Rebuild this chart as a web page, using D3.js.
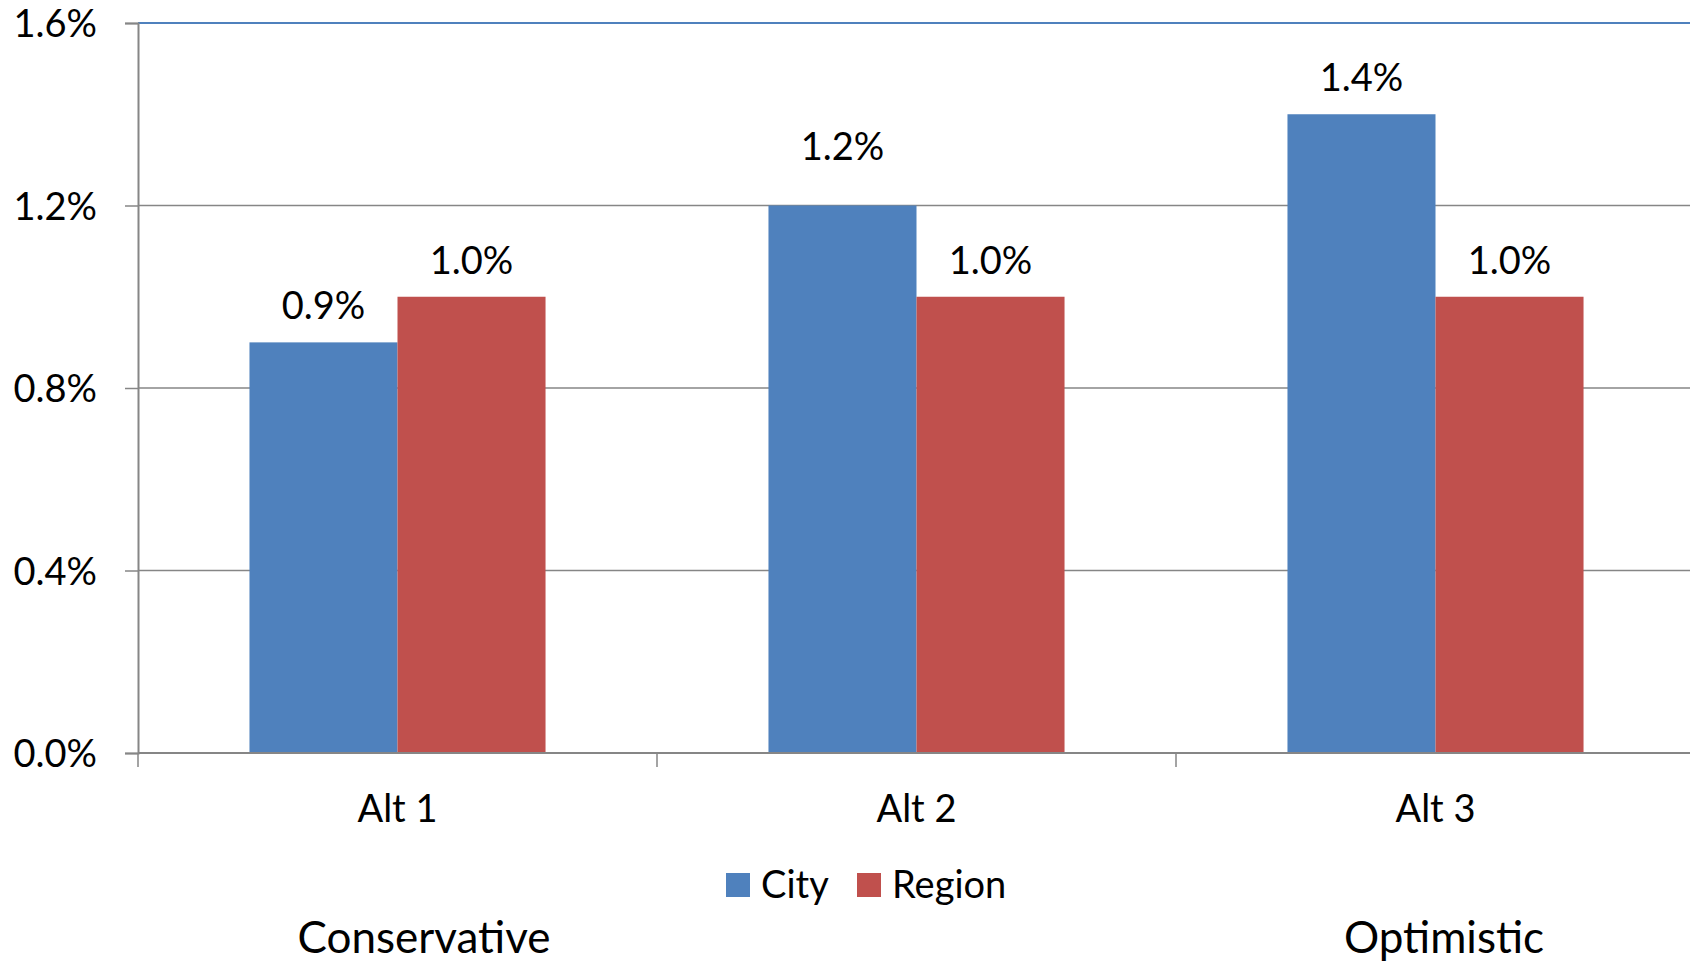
<!DOCTYPE html>
<html><head><meta charset="utf-8">
<script src="https://cdn.jsdelivr.net/npm/d3@7"></script>
<style>body{margin:0;background:#fff}svg text{font-family:Lato,"Open Sans",sans-serif;fill:#000}</style>
</head><body><svg id="c" width="1690" height="961"></svg>
<script>
const categories = ["Alt 1", "Alt 2", "Alt 3"];
const seriesNames = ["City", "Region"];
const cityValues = [0.009, 0.012, 0.014];
const regionValues = [0.010, 0.010, 0.010];
const yTicks = [0, 0.004, 0.008, 0.012, 0.016];
const scenarioLabels = ["Conservative", "Optimistic"];
const colors = ["#4f81bd", "#c0504d"];

(function () {
const svg = d3.select("#c");
const mLeft = 138, mRight = 1695, mTop = 23, mBottom = 753;
const fs = 38;
const x = d3.scaleBand().domain(categories).range([mLeft, mRight]).paddingInner(0).paddingOuter(0);
const x1 = d3.scaleBand().domain(seriesNames).range([0, x.bandwidth()]).paddingInner(0).paddingOuter(0.753);
const y = d3.scaleLinear().domain([0, 0.016]).range([mBottom, mTop]);
const fmt = d3.format(".1%");

svg.append("g").selectAll("line").data(yTicks.slice(1, -1)).join("line")
  .attr("x1", mLeft).attr("x2", 1690).attr("y1", d => y(d)).attr("y2", d => y(d))
  .attr("stroke", "#868686").attr("stroke-width", 1.3);
svg.append("line").attr("x1", mLeft).attr("x2", 1690).attr("y1", y(0.016)).attr("y2", y(0.016))
  .attr("stroke", "#4f81bd").attr("stroke-width", 2);

const data = categories.map((c, i) => ({c, vals: [cityValues[i], regionValues[i]]}));
const g = svg.append("g").selectAll("g").data(data).join("g")
  .attr("transform", d => `translate(${x(d.c)},0)`);
g.selectAll("rect").data(d => d.vals.map((v, j) => ({v, s: seriesNames[j], j}))).join("rect")
  .attr("x", d => x1(d.s)).attr("width", x1.bandwidth())
  .attr("y", d => y(d.v)).attr("height", d => y(0) - y(d.v))
  .attr("fill", d => colors[d.j]);
// labels sitting on a gridline value are lifted clear of it
const onGrid = v => yTicks.some(t => Math.abs(t - v) < 1e-9);
g.selectAll("text").data(d => d.vals.map((v, j) => ({v, s: seriesNames[j]}))).join("text")
  .attr("x", d => x1(d.s) + x1.bandwidth() / 2).attr("y", d => y(d.v) - (onGrid(d.v) ? 46 : 23))
  .attr("text-anchor", "middle").attr("font-size", fs).text(d => fmt(d.v));

const yAxis = svg.append("g").attr("transform", `translate(${mLeft},0)`)
  .call(d3.axisLeft(y).tickValues(yTicks).tickFormat(fmt).tickSize(13).tickPadding(28));
yAxis.select(".domain").attr("stroke", "#868686").attr("stroke-width", 2);
yAxis.selectAll(".tick line").attr("stroke", "#868686").attr("stroke-width", 1.5);
yAxis.selectAll(".tick text").attr("font-size", fs).attr("dy", "0.36em");

const xAxis = svg.append("g").attr("transform", `translate(0,${mBottom})`)
  .call(d3.axisBottom(x).tickSize(0).tickPadding(55));
xAxis.select(".domain").attr("stroke", "#868686").attr("stroke-width", 2).attr("d", `M${mLeft},0H1690`);
xAxis.selectAll(".tick text").attr("font-size", fs).attr("dy", "0.36em");
svg.append("g").selectAll("line").data(categories).join("line")
  .attr("x1", d => x(d)).attr("x2", d => x(d)).attr("y1", mBottom).attr("y2", mBottom + 14)
  .attr("stroke", "#868686").attr("stroke-width", 1.5);

const legX = [726, 857];
const lg = svg.append("g").selectAll("g").data(seriesNames).join("g")
  .attr("transform", (d, i) => `translate(${legX[i]},873)`);
lg.append("rect").attr("width", 24).attr("height", 24).attr("fill", (d, i) => colors[i]);
lg.append("text").attr("x", 35).attr("y", 25).attr("font-size", fs).text(d => d);

const scenX = [424, 1444];
svg.append("g").selectAll("text").data(scenarioLabels).join("text")
  .attr("x", (d, i) => scenX[i]).attr("y", 953).attr("text-anchor", "middle")
  .attr("font-size", 44).text(d => d);
})();
</script></body></html>
